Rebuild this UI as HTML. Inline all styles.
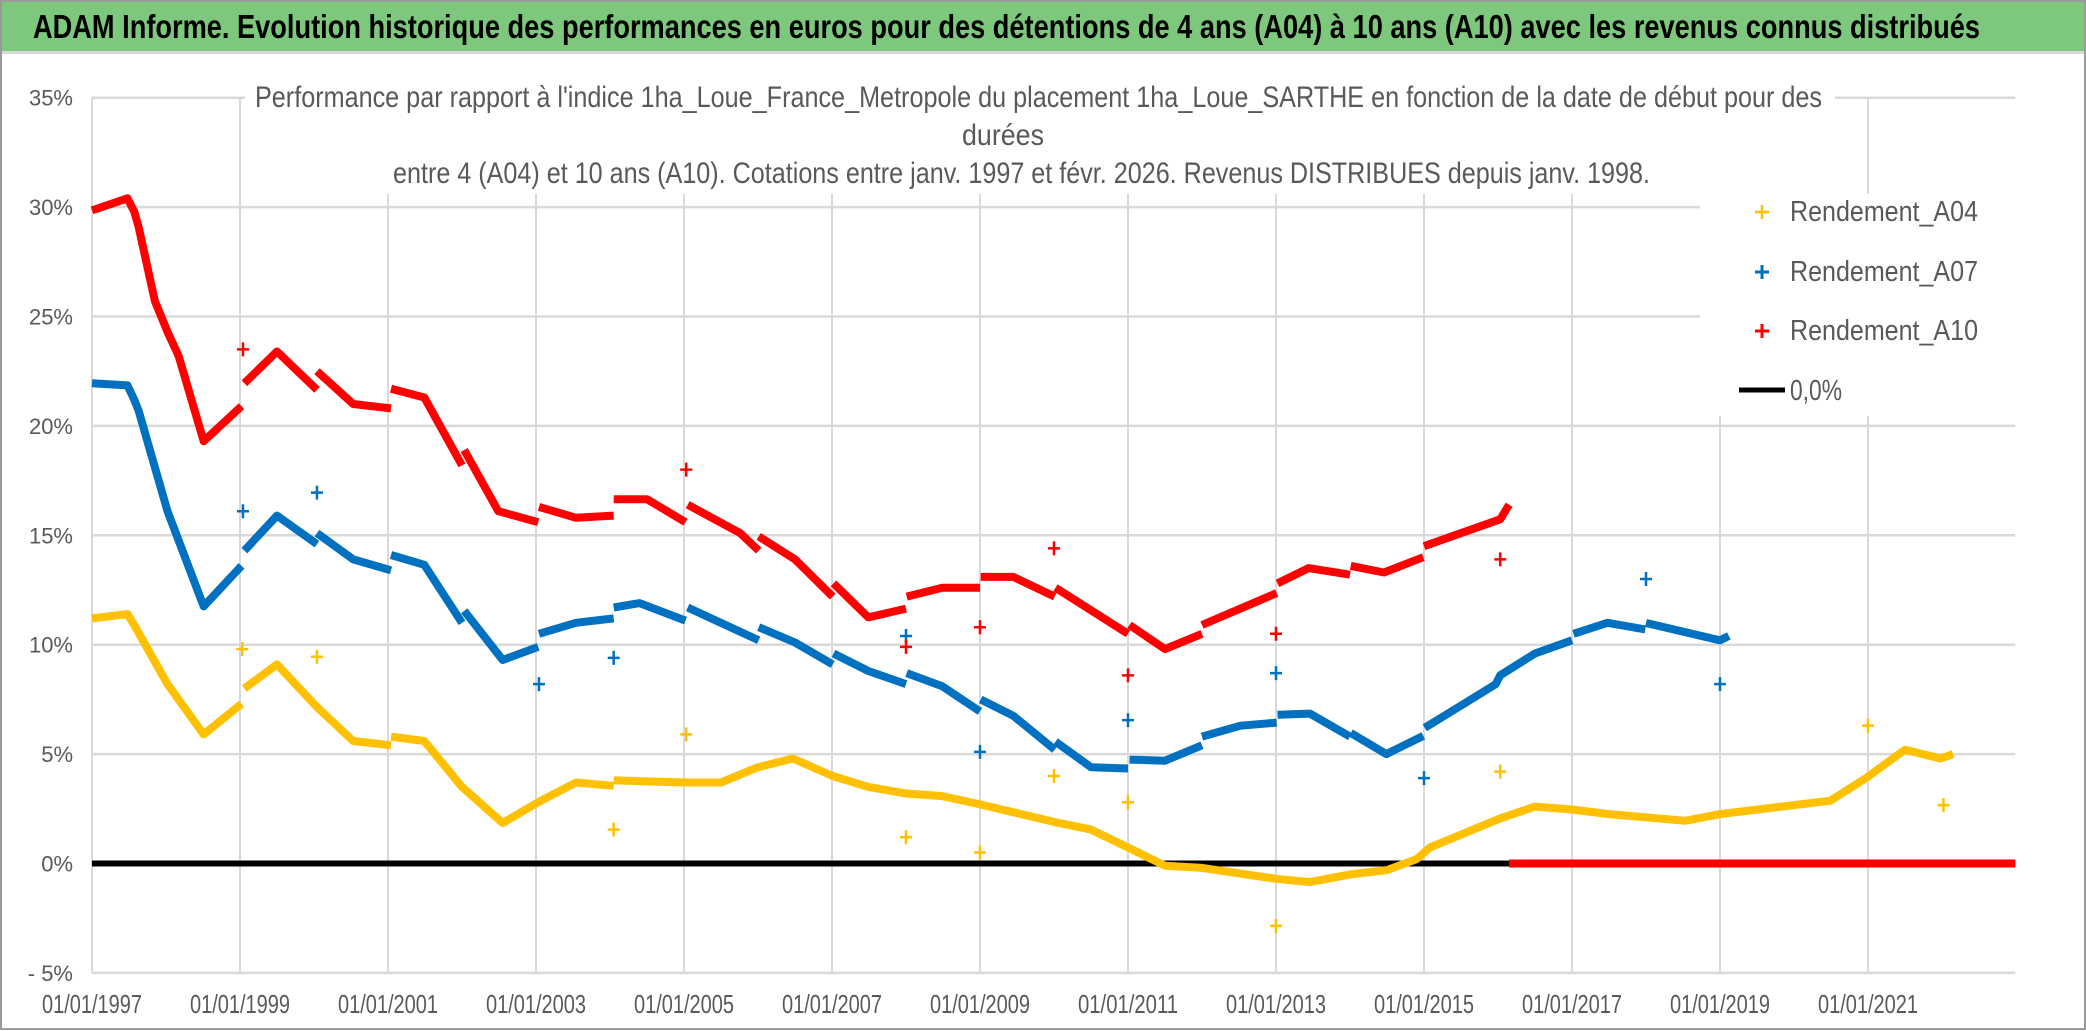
<!DOCTYPE html>
<html><head><meta charset="utf-8">
<style>
html,body{margin:0;padding:0;background:#fff;}
svg{display:block;font-family:"Liberation Sans",sans-serif;}
</style></head>
<body>
<svg id="chart" width="2086" height="1031" viewBox="0 0 2086 1031" xmlns="http://www.w3.org/2000/svg">
  <rect x="0" y="0" width="2086" height="1031" fill="#fff"/>
  <rect x="0" y="0" width="2086" height="51" fill="#7dc87c"/>
  <rect x="0" y="51" width="2086" height="3" fill="#d9d9d9"/>
  <text x="33" y="38" font-size="33" font-weight="bold" fill="#000" textLength="1947" lengthAdjust="spacingAndGlyphs">ADAM Informe. Evolution historique des performances en euros pour des détentions de 4 ans (A04) à 10 ans (A10) avec les revenus connus distribués</text>
  <g id="grid"></g>
  <rect x="245" y="62" width="1590" height="132" fill="#fff"/>
  <rect x="1700" y="194" width="360" height="222" fill="#fff"/>
  <g fill="#595959" font-size="30">
    <text x="255" y="107" textLength="1567" lengthAdjust="spacingAndGlyphs">Performance par rapport à l'indice 1ha_Loue_France_Metropole  du placement 1ha_Loue_SARTHE en fonction de la date de début pour des</text>
    <text x="1003" y="145" text-anchor="middle" textLength="82" lengthAdjust="spacingAndGlyphs">durées</text>
    <text x="393" y="183" textLength="1257" lengthAdjust="spacingAndGlyphs">entre 4 (A04) et 10 ans (A10). Cotations entre janv. 1997 et févr. 2026. Revenus DISTRIBUES depuis janv. 1998.</text>
  </g>
  <g id="yaxis"></g>
  <g id="xaxis"></g>
  <g id="series"></g>
  <g id="legend">
    <g>
      <path d="M1755 212h14M1762 205v14" stroke="#FFC000" stroke-width="2.5"/>
      <text x="1790" y="221" font-size="29" fill="#595959" textLength="188" lengthAdjust="spacingAndGlyphs">Rendement_A04</text>
    </g>
    <g>
      <path d="M1755 272h14M1762 265v14" stroke="#0070C0" stroke-width="3"/>
      <text x="1790" y="281" font-size="29" fill="#595959" textLength="188" lengthAdjust="spacingAndGlyphs">Rendement_A07</text>
    </g>
    <g>
      <path d="M1755 331h14M1762 324v14" stroke="#FF0000" stroke-width="3"/>
      <text x="1790" y="340" font-size="29" fill="#595959" textLength="188" lengthAdjust="spacingAndGlyphs">Rendement_A10</text>
    </g>
    <g>
      <line x1="1739" y1="390" x2="1785" y2="390" stroke="#000" stroke-width="5"/>
      <text x="1790" y="400" font-size="29" fill="#595959" textLength="52" lengthAdjust="spacingAndGlyphs">0,0%</text>
    </g>
  </g>
  <rect x="1" y="1" width="2084" height="1028" fill="none" stroke="#9a9a9a" stroke-width="2"/>
</svg>
<script>
// ---- data ----
const yTicks = [-5, 0, 5, 10, 15, 20, 25, 30, 35];
const yTickLabels = ['- 5%', '0%', '5%', '10%', '15%', '20%', '25%', '30%', '35%'];
const xTicks = [1997, 1999, 2001, 2003, 2005, 2007, 2009, 2011, 2013, 2015, 2017, 2019, 2021];
const xTickLabels = ['01/01/1997','01/01/1999','01/01/2001','01/01/2003','01/01/2005','01/01/2007','01/01/2009','01/01/2011','01/01/2013','01/01/2015','01/01/2017','01/01/2019','01/01/2021'];

// series: dates (decimal years) and values (%), null = gap between segments
const a04Dates = [1997.0,1997.48,1997.57,1998.02,1998.51,1999.02,null,
  1999.06,1999.5,2000.04,2000.53,2001.04,null,
  2001.04,2001.49,2002.0,2002.55,2003.03,2003.54,2004.05,null,
  2004.05,2005.02,2005.5,2006.0,2006.47,2007.01,2007.49,2008.0,2008.49,2009.0,2010.0,2010.5,2011.0,2011.5,2012.0,2013.0,2013.46,2014.0,2014.5,2014.9,2015.08,2016.03,2016.5,2017.0,2017.5,2018.53,2019.0,2020.49,2020.97,2021.5,2021.98,2022.15,null,
  2022.15,2022.99];
const a04Values = [11.2,11.4,10.9,8.2,5.9,7.3,null,
  8.0,9.1,7.15,5.6,5.4,null,
  5.8,5.6,3.5,1.85,2.8,3.7,3.55,null,
  3.8,3.7,3.7,4.4,4.8,4.0,3.5,3.2,3.08,2.7,1.9,1.55,0.73,-0.1,-0.2,-0.7,-0.85,-0.5,-0.3,0.2,0.73,2.06,2.6,2.47,2.26,1.95,2.26,2.87,3.9,5.2,4.8,5.0,null,
  0,0];
const a04OutDates = [1999.03,2000.04,2004.05,2005.03,2008.0,2009.0,2010.0,2011.0,2013.0,2016.03,2021.0,2022.02];
const a04OutValues = [9.8,9.45,1.55,5.9,1.2,0.5,4.0,2.8,-2.85,4.2,6.3,2.67];

const a07Dates = [1997.0,1997.48,1997.57,1997.63,1998.02,1998.51,1999.02,null,
  1999.06,1999.5,2000.04,null, 2000.04,2000.53,2001.04,null,
  2001.04,2001.49,2002.0,null, 2002.03,2002.55,2003.03,null,
  2003.04,2003.54,2004.05,null, 2004.05,2004.4,2005.02,null,
  2005.05,2006.01,null, 2006.01,2006.5,2007.01,null,
  2007.02,2007.49,2008.0,null, 2008.01,2008.49,2009.0,null,
  2009.01,2009.45,2010.01,null, 2010.02,2010.5,2011.0,null,
  2011.02,2011.5,2012.0,null, 2012.0,2012.52,2013.01,null,
  2013.02,2013.46,2014.0,null, 2014.01,2014.49,2014.99,null,
  2015.01,2015.49,2015.97,2016.03,2016.5,2017.0,null,
  2017.02,2017.48,2017.99,null, 2018.0,2019.0,2019.12];
const a07Values = [21.95,21.85,21.2,20.7,16.1,11.75,13.6,null,
  14.3,15.9,14.6,null, 15.1,13.9,13.4,null,
  14.1,13.65,11.0,null, 11.55,9.3,9.9,null,
  10.5,11.0,11.2,null, 11.7,11.9,11.1,null,
  11.7,10.2,null, 10.8,10.1,9.1,null,
  9.6,8.8,8.2,null, 8.7,8.1,6.95,null,
  7.5,6.75,5.2,null, 5.57,4.4,4.34,null,
  4.75,4.7,5.4,null, 5.8,6.3,6.44,null,
  6.8,6.85,5.8,null, 5.97,5.0,5.83,null,
  6.2,7.2,8.2,8.6,9.6,10.2,null,
  10.5,11.0,10.7,null, 10.99,10.2,10.4];
const a07OutDates = [1999.04,2000.04,2003.04,2004.05,2008.0,2009.0,2011.0,2013.0,2015.0,2018.0,2019.0];
const a07OutValues = [16.1,16.95,8.2,9.4,10.4,5.1,6.55,8.7,3.9,13.0,8.2];

const a10Dates = [1997.0,1997.48,1997.57,1997.63,1997.85,1998.02,1998.17,1998.51,1999.02,null,
  1999.06,1999.5,2000.04,null, 2000.04,2000.53,2001.04,null,
  2001.04,2001.49,2002.0,null, 2002.03,2002.49,2003.03,null,
  2003.04,2003.54,2004.05,null, 2004.05,2004.5,2005.02,null,
  2005.05,2005.76,2006.01,null, 2006.01,2006.5,2007.01,null,
  2007.02,2007.49,2008.0,null, 2008.01,2008.49,2009.0,null,
  2009.01,2009.45,2010.01,null, 2010.02,2011.0,null,
  2011.02,2011.5,2012.0,null, 2012.0,2013.01,null,
  2013.02,2013.44,2014.0,null, 2014.01,2014.46,2014.99,null,
  2015.0,2016.03,2016.15,null, 2016.15,2022.99];
const a10Values = [29.85,30.4,29.8,29.1,25.7,24.3,23.2,19.3,20.9,null,
  21.95,23.4,21.65,null, 22.5,21.0,20.8,null,
  21.7,21.3,18.2,null, 18.9,16.1,15.6,null,
  16.3,15.8,15.9,null, 16.65,16.65,15.6,null,
  16.4,15.1,14.3,null, 14.95,13.9,12.2,null,
  12.8,11.25,11.65,null, 12.2,12.6,12.6,null,
  13.1,13.1,12.2,null, 12.6,10.5,null,
  10.9,9.8,10.5,null, 10.9,12.36,null,
  12.8,13.5,13.2,null, 13.6,13.3,14.0,null,
  14.5,15.73,16.4,null, 0,0];
const a10OutDates = [1999.04,2005.03,2008.0,2009.0,2010.0,2011.0,2013.0,2016.03];
const a10OutValues = [23.5,18.0,9.9,10.8,14.4,8.6,10.5,13.9];

const zeroDates = [1997.0, 2022.99];
const zeroValues = [0, 0];

// ---- scales ----
const X0 = 92, PX_PER_YEAR = 74, Y0 = 863.5, PX_PER_PCT = 21.88;
const xMin = 1997, xMax = 2022.99, yMin = -5, yMax = 35;
function sx(d){ return X0 + (d - xMin) * PX_PER_YEAR; }
function sy(v){ return Y0 - v * PX_PER_PCT; }

const NS = 'http://www.w3.org/2000/svg';
function mk(tag, attrs, parent){
  const e = document.createElementNS(NS, tag);
  for (const k in attrs) e.setAttribute(k, attrs[k]);
  parent.appendChild(e);
  return e;
}

// grid
const grid = document.getElementById('grid');
yTicks.forEach((t, i) => {
  const l = mk('line', {x1: sx(xMin), x2: sx(xMax), y1: sy(t), y2: sy(t), stroke: '#d9d9d9', 'stroke-width': 2.5}, grid);
  
  
});
xTicks.forEach((t, i) => {
  const l = mk('line', {x1: sx(t), x2: sx(t), y1: sy(yMax), y2: sy(yMin), stroke: '#d9d9d9', 'stroke-width': 2}, grid);
  
  
});

// y axis labels
const yaxis = document.getElementById('yaxis');
yTicks.forEach((t, i) => {
  const tx = mk('text', {x: 73, y: sy(t) + 8, 'text-anchor': 'end', 'font-size': 22, fill: '#595959'}, yaxis);
  tx.textContent = yTickLabels[i];
  
  
});
// x axis labels
const xaxis = document.getElementById('xaxis');
xTicks.forEach((t, i) => {
  const tx = mk('text', {x: sx(t), y: 1013, 'text-anchor': 'middle', 'font-size': 26, fill: '#595959', textLength: 100, lengthAdjust: 'spacingAndGlyphs'}, xaxis);
  tx.textContent = xTickLabels[i];
  
  
});

// series
const series = document.getElementById('series');
function drawSeries(dates, values, color, name, width){
  const g = mk('g', {}, series);
  
  
  let pts = [];
  const flush = () => {
    if (pts.length > 1) {
      const p = mk('polyline', {points: pts.join(' '), fill: 'none', stroke: color, 'stroke-width': width, 'stroke-linejoin': 'round', 'stroke-linecap': 'butt'}, g);
      
      
    }
    pts = [];
  };
  for (let i = 0; i < dates.length; i++) {
    if (dates[i] === null || values[i] === null) { flush(); continue; }
    pts.push(sx(dates[i]).toFixed(1) + ',' + sy(values[i]).toFixed(1));
  }
  flush();
}
function drawOutliers(dates, values, color, name){
  const g = mk('g', {}, series);
  
  
  dates.forEach((d, i) => {
    const x = sx(d), y = sy(values[i]);
    const p = mk('path', {d: `M${x-6} ${y}h12M${x} ${y-7}v14`, stroke: color, 'stroke-width': 2.5}, g);
    
    
  });
}
drawSeries(zeroDates, zeroValues, '#000', 'zero-line', 6);
drawSeries(a04Dates, a04Values, '#FFC000', 'series-a04', 8);
drawSeries(a07Dates, a07Values, '#0070C0', 'series-a07', 8);
drawSeries(a10Dates, a10Values, '#FF0000', 'series-a10', 8);
drawOutliers(a04OutDates, a04OutValues, '#FFC000', 'outliers-a04');
drawOutliers(a07OutDates, a07OutValues, '#0070C0', 'outliers-a07');
drawOutliers(a10OutDates, a10OutValues, '#FF0000', 'outliers-a10');
</script>
</body></html>
